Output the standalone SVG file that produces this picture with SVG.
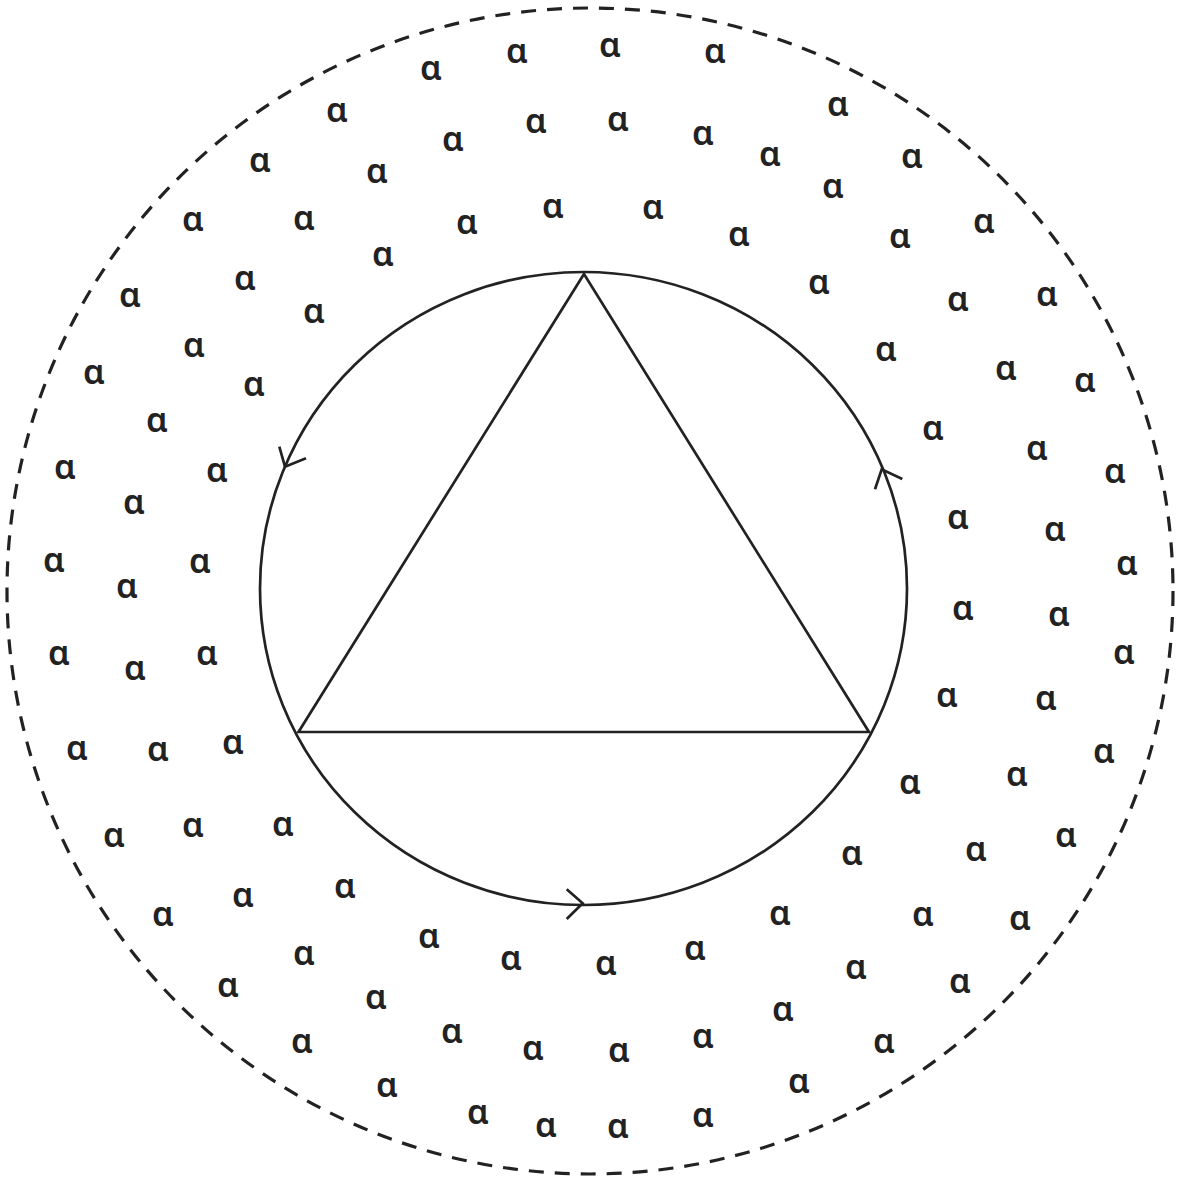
<svg xmlns="http://www.w3.org/2000/svg" width="1178" height="1178" viewBox="0 0 1178 1178">
<style>
.a{font-family:"Noto Sans","DejaVu Sans",sans-serif;font-size:34px;font-weight:600;fill:#222;text-anchor:middle}
.ln{fill:none;stroke:#222;stroke-width:2.7;stroke-linejoin:miter}
.dash{fill:none;stroke:#222;stroke-width:3.2;stroke-dasharray:15 11}
</style>
<rect width="1178" height="1178" fill="#fff"/>
<g id="outer-boundary">
<ellipse class="dash" cx="590" cy="591" rx="583" ry="583"/>
</g>
<g id="inner-loop">
<ellipse class="ln" cx="583.5" cy="588.5" rx="323.5" ry="316.5"/>
</g>
<g id="triangle">
<polygon class="ln" points="584,274 298.5,732 869,732"/>
</g>
<g id="connectors">
<path class="ln" d="M279.3,446.7 L285,466.7 L306,458.3"/>
<path class="ln" d="M875,489.3 L881.7,469.3 L902.3,479"/>
<path class="ln" d="M566.7,889.3 L582.7,903.3 L566.7,919"/>
</g>
<g id="alphas">
<text class="a" x="431" y="80">α</text>
<text class="a" x="517" y="63">α</text>
<text class="a" x="610" y="57">α</text>
<text class="a" x="715" y="63">α</text>
<text class="a" x="337" y="122">α</text>
<text class="a" x="453" y="151">α</text>
<text class="a" x="536" y="133">α</text>
<text class="a" x="618" y="131">α</text>
<text class="a" x="703" y="145">α</text>
<text class="a" x="838" y="116">α</text>
<text class="a" x="260" y="172">α</text>
<text class="a" x="377" y="183">α</text>
<text class="a" x="770" y="166">α</text>
<text class="a" x="912" y="168">α</text>
<text class="a" x="193" y="231">α</text>
<text class="a" x="304" y="230">α</text>
<text class="a" x="467" y="234">α</text>
<text class="a" x="553" y="218">α</text>
<text class="a" x="653" y="219">α</text>
<text class="a" x="833" y="198">α</text>
<text class="a" x="383" y="266">α</text>
<text class="a" x="739" y="246">α</text>
<text class="a" x="900" y="248">α</text>
<text class="a" x="984" y="233">α</text>
<text class="a" x="130" y="307">α</text>
<text class="a" x="245" y="290">α</text>
<text class="a" x="314" y="323">α</text>
<text class="a" x="819" y="294">α</text>
<text class="a" x="958" y="311">α</text>
<text class="a" x="1047" y="306">α</text>
<text class="a" x="94" y="384">α</text>
<text class="a" x="194" y="357">α</text>
<text class="a" x="254" y="396">α</text>
<text class="a" x="886" y="361">α</text>
<text class="a" x="1006" y="380">α</text>
<text class="a" x="1085" y="392">α</text>
<text class="a" x="157" y="432">α</text>
<text class="a" x="933" y="440">α</text>
<text class="a" x="1037" y="460">α</text>
<text class="a" x="65" y="479">α</text>
<text class="a" x="217" y="482">α</text>
<text class="a" x="1115" y="483">α</text>
<text class="a" x="134" y="514">α</text>
<text class="a" x="958" y="529">α</text>
<text class="a" x="1055" y="541">α</text>
<text class="a" x="54" y="572">α</text>
<text class="a" x="200" y="573">α</text>
<text class="a" x="1127" y="575">α</text>
<text class="a" x="127" y="598">α</text>
<text class="a" x="963" y="620">α</text>
<text class="a" x="1059" y="626">α</text>
<text class="a" x="59" y="665">α</text>
<text class="a" x="135" y="680">α</text>
<text class="a" x="207" y="665">α</text>
<text class="a" x="1124" y="664">α</text>
<text class="a" x="947" y="707">α</text>
<text class="a" x="1046" y="710">α</text>
<text class="a" x="77" y="760">α</text>
<text class="a" x="158" y="761">α</text>
<text class="a" x="233" y="754">α</text>
<text class="a" x="1104" y="763">α</text>
<text class="a" x="910" y="794">α</text>
<text class="a" x="1017" y="786">α</text>
<text class="a" x="114" y="847">α</text>
<text class="a" x="193" y="837">α</text>
<text class="a" x="283" y="836">α</text>
<text class="a" x="1066" y="847">α</text>
<text class="a" x="852" y="865">α</text>
<text class="a" x="976" y="861">α</text>
<text class="a" x="163" y="926">α</text>
<text class="a" x="243" y="907">α</text>
<text class="a" x="345" y="898">α</text>
<text class="a" x="780" y="925">α</text>
<text class="a" x="923" y="926">α</text>
<text class="a" x="1020" y="930">α</text>
<text class="a" x="429" y="948">α</text>
<text class="a" x="511" y="970">α</text>
<text class="a" x="606" y="975">α</text>
<text class="a" x="695" y="960">α</text>
<text class="a" x="304" y="965">α</text>
<text class="a" x="856" y="979">α</text>
<text class="a" x="228" y="997">α</text>
<text class="a" x="376" y="1009">α</text>
<text class="a" x="960" y="993">α</text>
<text class="a" x="783" y="1021">α</text>
<text class="a" x="302" y="1053">α</text>
<text class="a" x="452" y="1043">α</text>
<text class="a" x="533" y="1060">α</text>
<text class="a" x="619" y="1062">α</text>
<text class="a" x="703" y="1048">α</text>
<text class="a" x="884" y="1053">α</text>
<text class="a" x="387" y="1097">α</text>
<text class="a" x="799" y="1093">α</text>
<text class="a" x="478" y="1124">α</text>
<text class="a" x="546" y="1137">α</text>
<text class="a" x="618" y="1138">α</text>
<text class="a" x="703" y="1127">α</text>
</g>
</svg>
